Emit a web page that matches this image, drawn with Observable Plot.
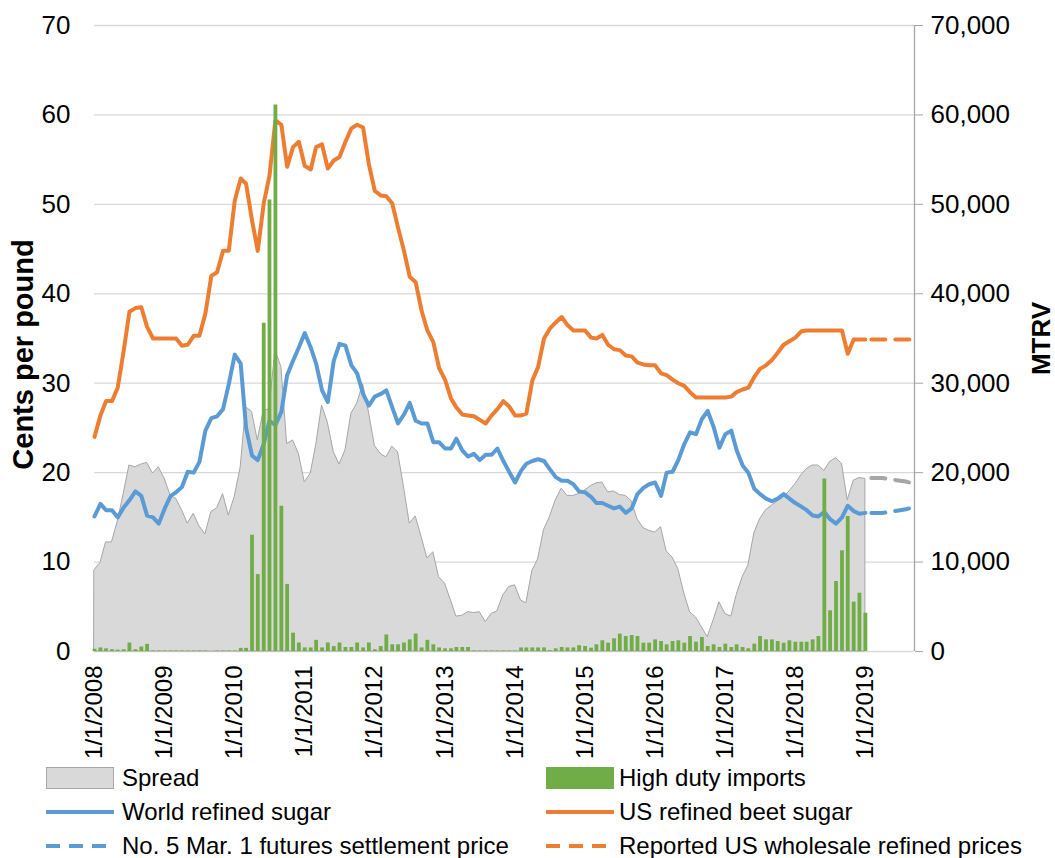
<!DOCTYPE html>
<html><head><meta charset="utf-8">
<script src="https://cdn.jsdelivr.net/npm/d3@7"></script>
<script src="https://cdn.jsdelivr.net/npm/@observablehq/plot@0.6"></script>
<style>
body{margin:0;background:#fff;font-family:"Liberation Sans",Arial,sans-serif;overflow:hidden;width:1055px;height:858px}
#legend{position:relative;height:100px;width:1055px}
.item{position:absolute;display:flex;align-items:center;height:34px;font-size:24px;color:#000;white-space:nowrap}
</style></head><body><div id="chart"></div><div id="legend"></div>
<script>
// Monthly series, Jan 2008 .. Jan 2019 (one row per year)
const usBeet = [
24.0,26.4,28.0,28.0,29.5,33.6,38.0,38.4,38.5,36.3,35.0,35.0,
35.0,35.0,35.0,34.2,34.3,35.3,35.3,37.8,42.0,42.4,44.8,44.8,
50.4,52.9,52.3,48.2,44.8,50.1,53.2,59.4,58.9,54.2,56.4,57.0,
54.3,53.9,56.4,56.7,54.0,54.9,55.3,57.0,58.5,58.9,58.6,54.5,
51.5,51.0,50.9,50.1,47.4,44.8,41.9,41.3,38.1,35.9,34.6,31.7,
30.4,28.3,27.3,26.5,26.4,26.3,25.9,25.5,26.4,27.1,28.0,27.4,
26.4,26.4,26.6,30.3,31.8,35.0,36.1,36.8,37.4,36.5,35.9,35.9,
35.9,35.1,35.0,35.4,34.3,33.8,33.7,33.1,33.0,32.3,32.1,32.0,
32.0,31.1,30.9,30.4,30.0,29.7,29.0,28.4,28.4,28.4,28.4,28.4,
28.4,28.5,29.0,29.3,29.5,30.7,31.6,32.0,32.6,33.4,34.3,34.7,
35.1,35.8,35.9,35.9,35.9,35.9,35.9,35.9,35.9,33.3,34.9,34.9,
34.9];
const worldRefined = [
15.1,16.5,15.8,15.8,15.0,16.1,16.9,17.9,17.4,15.2,15.0,14.3,
16.0,17.4,17.8,18.4,20.1,20.0,21.2,24.7,26.1,26.3,27.1,29.9,
33.2,32.2,25.0,21.9,21.4,23.2,25.8,25.3,26.8,30.9,32.5,34.0,
35.6,34.0,32.2,29.2,27.9,32.5,34.4,34.2,32.0,31.1,28.8,27.5,
28.5,28.8,29.2,27.3,25.5,26.5,27.8,25.8,25.5,25.5,23.4,23.4,
22.7,22.7,23.8,22.5,21.8,22.1,21.4,22.0,22.0,22.7,21.3,20.1,
18.9,20.2,21.0,21.3,21.5,21.3,20.4,19.5,19.1,19.1,18.7,17.9,
17.8,17.3,16.6,16.6,16.3,16.0,16.2,15.5,16.0,17.6,18.3,18.7,
18.9,17.4,20.0,20.1,21.4,23.2,24.5,24.3,26.0,26.9,25.1,22.8,
24.3,24.7,22.5,20.8,20.0,18.2,17.6,17.1,16.8,17.1,17.6,17.1,
16.6,16.2,15.8,15.2,15.1,15.6,14.8,14.3,15.0,16.3,15.7,15.4,
15.5];
const spread = [
9.1,9.9,12.2,12.2,14.5,17.6,20.8,20.6,20.9,21.1,19.9,20.6,
19.3,17.4,17.1,15.8,14.3,15.4,14.0,13.1,15.6,16.0,17.6,15.2,
17.3,20.6,27.3,26.8,23.6,26.9,27.1,33.7,31.8,23.2,23.6,22.1,
18.9,19.9,23.0,27.5,25.6,22.3,20.9,22.5,26.6,27.7,29.9,26.8,
23.0,22.1,21.7,22.9,22.3,18.4,14.3,15.1,12.8,10.4,11.1,8.3,
7.6,5.7,3.9,4.0,4.4,4.3,4.4,3.3,4.2,4.5,6.3,7.2,
7.4,5.7,5.4,9.0,10.3,13.6,15.0,16.9,18.2,17.4,17.4,17.6,
18.0,18.5,18.8,18.9,17.8,17.9,17.5,17.4,16.8,14.8,13.8,13.5,
13.3,13.9,11.2,10.5,9.2,6.5,4.4,3.8,2.7,1.6,3.5,5.5,
4.2,3.9,6.3,8.3,9.6,13.2,14.8,15.8,16.3,16.8,17.2,17.9,
18.7,19.7,20.4,20.8,20.8,20.2,21.2,21.6,21.0,16.9,19.1,19.4,
19.3];
const highDutyImports = [
250,400,300,200,150,200,950,200,500,800,60,60,
60,60,60,60,60,60,60,60,0,60,60,60,
60,350,350,13000,8600,36700,50500,61100,16250,7500,2050,950,
400,400,1250,400,950,550,950,450,450,950,400,950,
200,550,1850,750,750,950,1300,1950,400,1250,750,400,
300,300,450,450,450,60,60,60,60,60,60,60,
60,400,400,400,400,400,100,300,450,400,400,650,
560,370,750,1200,930,1420,1940,1680,1790,1680,930,930,
1300,1120,750,1120,1200,930,1680,1040,1570,560,750,450,
820,450,750,450,300,820,1680,1300,1300,1120,930,1200,
1040,1040,1040,1300,1680,19300,4550,7830,11260,15100,5520,6520,
4280];
// Projection, Feb 2019 .. Sep 2019
const futuresWorld = [15.5,15.5,15.5,15.6,15.7,15.8,15.9,16.1];
const reportedUS = [34.9,34.9,34.9,34.9,34.9,34.9,34.9,34.9];
const projSpread = [19.4,19.4,19.4,19.3,19.2,19.1,19.0,18.8];
const tickYears = [2008,2009,2010,2011,2012,2013,2014,2015,2016,2017,2018,2019];
const yTicks = [0,10,20,30,40,50,60,70];

const monthDate = i => new Date(Date.UTC(2008, i, 1));
const main = usBeet.map((v, i) => ({date: monthDate(i), us: v, world: worldRefined[i], spread: spread[i], imports: highDutyImports[i]}));
const proj = futuresWorld.map((v, i) => ({date: monthDate(133 + i), world: v, us: reportedUS[i], spread: projSpread[i]}));
const xStart = new Date(Date.UTC(2008,0,1)), xEnd = new Date(Date.UTC(2019,8,14));
const tickDates = tickYears.map(y => new Date(Date.UTC(y,0,1)));

const BLUE="#5b9bd5", ORANGE="#ed7d31", GREEN="#70ad47", GRAY="#d9d9d9", DGRAY="#a6a6a6";
const dash = "14 10";
const LW = 4;

const chart = Plot.plot({
  width: 1055, height: 761,
  marginLeft: 94, marginRight: 141, marginTop: 25, marginBottom: 110,
  style: {fontFamily: '"Liberation Sans", Arial, sans-serif', fontSize: "26px", color: "#000", background: "#fff", overflow: "visible"},
  x: {type: "utc", domain: [xStart, xEnd]},
  y: {domain: [0, 70]},
  marks: [
    Plot.gridY(yTicks, {stroke: GRAY, strokeOpacity: 1, strokeWidth: 1.3}),
    Plot.areaY(main, {x: "date", y: "spread", fill: GRAY, stroke: DGRAY, strokeWidth: 1}),
    Plot.lineY(main, {x: "date", y: "world", stroke: BLUE, strokeWidth: LW}),
    Plot.lineY(main, {x: "date", y: "us", stroke: ORANGE, strokeWidth: LW}),
    Plot.lineY(proj, {x: "date", y: "spread", stroke: DGRAY, strokeWidth: LW, strokeDasharray: dash}),
    Plot.lineY(proj, {x: "date", y: "world", stroke: BLUE, strokeWidth: LW, strokeDasharray: dash}),
    Plot.lineY(proj, {x: "date", y: "us", stroke: ORANGE, strokeWidth: LW, strokeDasharray: dash}),
    Plot.ruleX(main, {x: "date", y1: 0, y2: d => d.imports / 1000, stroke: GREEN, strokeWidth: 3.8}),
    Plot.ruleX([xEnd], {stroke: DGRAY, strokeWidth: 1.3}),
    Plot.axisY(yTicks, {anchor: "left", tickSize: 0, tickPadding: 24, fontSize: 26, label: null}),
    Plot.axisY(yTicks, {anchor: "right", tickSize: 8, tickPadding: 8, stroke: DGRAY, fontSize: 26, label: null,
      tickFormat: d => d3.format(",")(d * 1000)}),
    Plot.axisX(tickDates, {anchor: "bottom", tickSize: 0, tickPadding: 14, tickRotate: -90, fontSize: 24, label: null,
      tickFormat: d => `${d.getUTCMonth()+1}/${d.getUTCDate()}/${d.getUTCFullYear()}`}),
    Plot.text(["Cents per pound"], {frameAnchor: "left", dx: -71, dy: 16, rotate: -90, textAnchor: "middle", lineAnchor: "middle", fontWeight: "bold", fontSize: 29}),
    Plot.text(["MTRV"], {frameAnchor: "right", dx: 127, rotate: -90, textAnchor: "middle", lineAnchor: "middle", fontWeight: "bold", fontSize: 26})
  ]
});
document.getElementById("chart").appendChild(chart);

// Legend
const legendItems = [
  {label: "Spread", col: 0, row: 0, kind: "box", color: GRAY, border: DGRAY},
  {label: "High duty imports", col: 1, row: 0, kind: "box", color: GREEN, border: GREEN},
  {label: "World refined sugar", col: 0, row: 1, kind: "line", color: BLUE},
  {label: "US refined beet sugar", col: 1, row: 1, kind: "line", color: ORANGE},
  {label: "No. 5 Mar. 1 futures settlement price", col: 0, row: 2, kind: "dash", color: BLUE},
  {label: "Reported US wholesale refined prices", col: 1, row: 2, kind: "dash", color: ORANGE}
];
const legend = document.getElementById("legend");
const colX = [46, 546], textGap = [76, 73];
for (const it of legendItems) {
  const el = document.createElement("div");
  el.className = "item";
  el.style.left = colX[it.col] + "px";
  el.style.top = (it.row * 34) + "px";
  let sw;
  if (it.kind === "box") {
    sw = `<svg width="68" height="22" style="margin-right:${textGap[it.col]-68}px"><rect x="0.5" y="0.5" width="67" height="21" fill="${it.color}" stroke="${it.border}"/></svg>`;
  } else {
    const da = it.kind === "dash" ? `stroke-dasharray="14 9"` : "";
    sw = `<svg width="68" height="6" style="margin-right:${textGap[it.col]-68}px"><line x1="0" x2="68" y1="3" y2="3" stroke="${it.color}" stroke-width="4" ${da}/></svg>`;
  }
  el.innerHTML = sw + `<span>${it.label}</span>`;
  legend.appendChild(el);
}
</script></body></html>
